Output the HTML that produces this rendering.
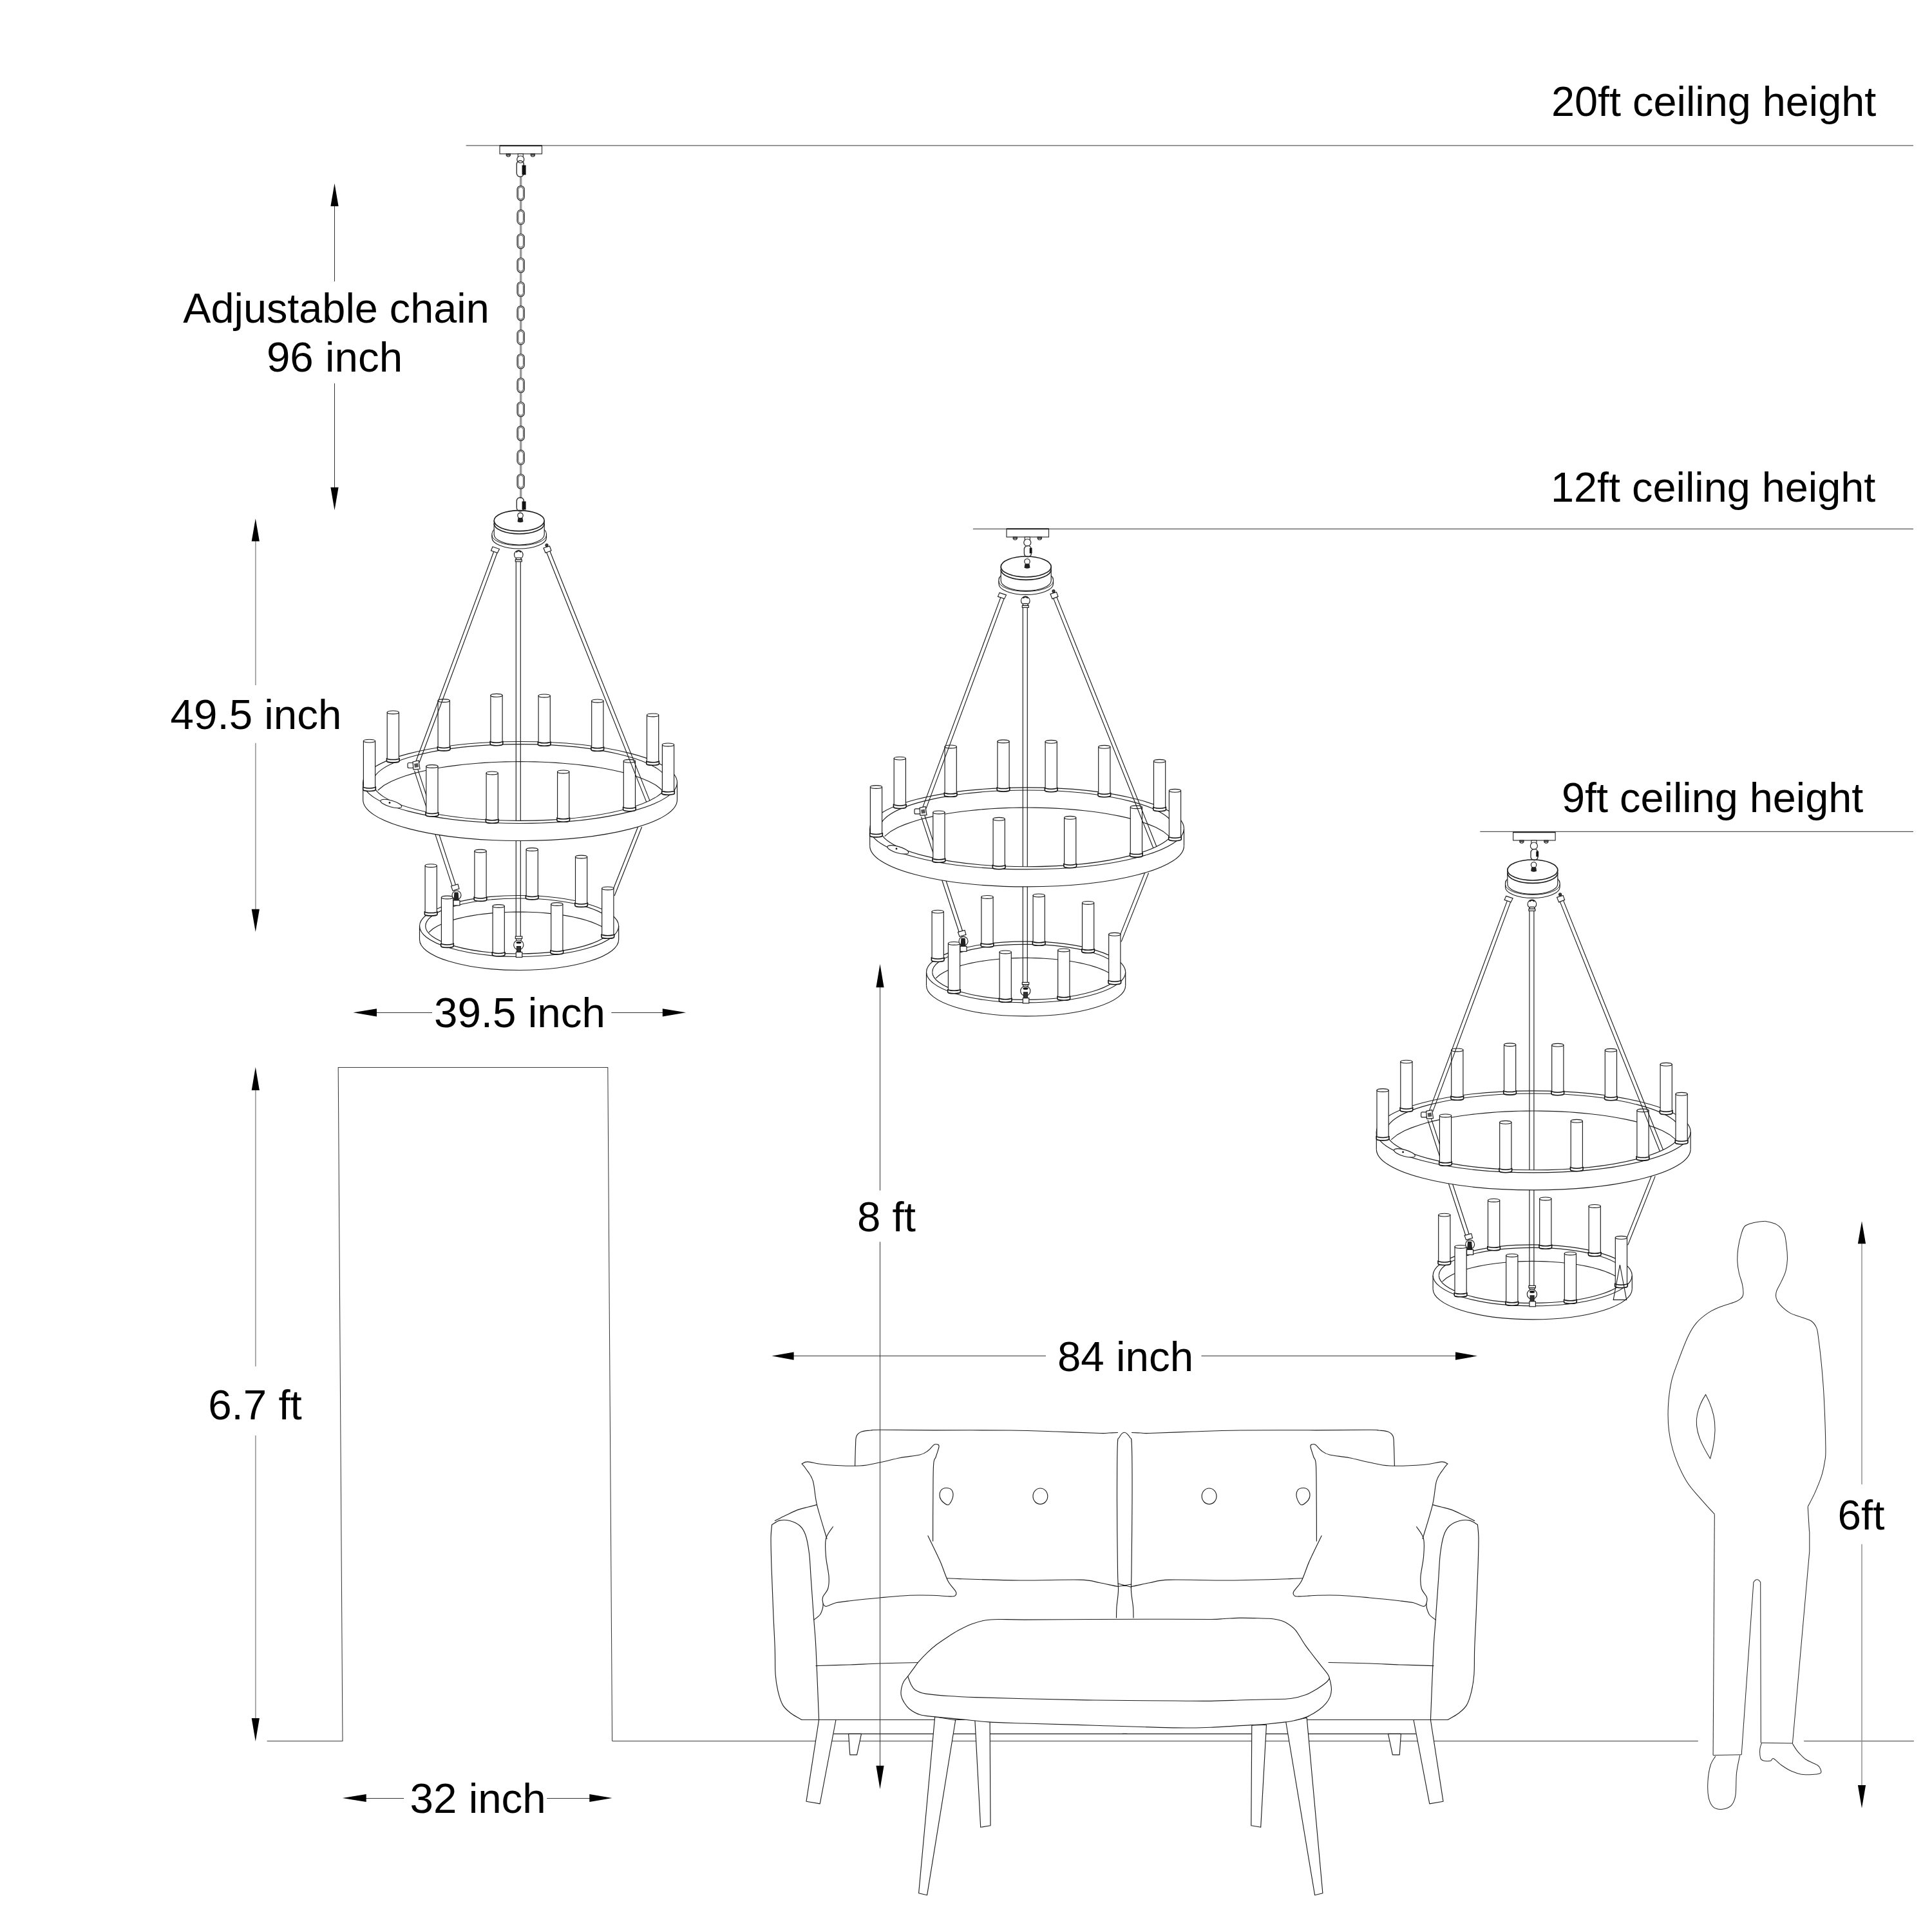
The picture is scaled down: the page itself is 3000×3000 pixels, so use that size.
<!DOCTYPE html>
<html><head><meta charset="utf-8"><style>
html,body{margin:0;padding:0;background:#fff;}
svg{display:block;}
text{font-family:"Liberation Sans",sans-serif;font-size:65.5px;fill:#000;}
</style></head><body>
<svg width="3000" height="3000" viewBox="0 0 3000 3000">
<defs>
<path id="ahU" d="M0,0 L-6.2,35.5 L6.2,35.5 Z"/>
</defs>
<rect width="3000" height="3000" fill="#fff"/>

<!-- ceiling lines -->
<line x1="723.6" y1="226" x2="2971" y2="226" stroke="#999" stroke-width="2"/>
<line x1="1510.9" y1="821.4" x2="2971" y2="821.4" stroke="#555" stroke-width="1.4"/>
<line x1="2298.3" y1="1291.4" x2="2971" y2="1291.4" stroke="#555" stroke-width="1.4"/>

<!-- labels -->
<g id="labels">
<text x="2409" y="180.4" style="font-size:64.8px">20ft ceiling height</text>
<text x="2408" y="779" style="font-size:64.8px">12ft ceiling height</text>
<text x="2425" y="1260.6" style="font-size:64.8px">9ft ceiling height</text>
<text x="522" y="500.5" text-anchor="middle" style="font-size:64.8px">Adjustable chain</text>
<text x="519.5" y="577.4" text-anchor="middle">96 inch</text>
<text x="397.5" y="1132.2" text-anchor="middle">49.5 inch</text>
<text x="806.9" y="1595.4" text-anchor="middle">39.5 inch</text>
<text x="396" y="2204.3" text-anchor="middle">6.7 ft</text>
<text x="742.2" y="2815.3" text-anchor="middle">32 inch</text>
<text x="1376.5" y="1912.3" text-anchor="middle">8 ft</text>
<text x="1747.5" y="2129.4" text-anchor="middle">84 inch</text>
<text x="2890" y="2374.5" text-anchor="middle">6ft</text>
</g>

<!-- door + floor -->
<g fill="none" stroke="#3a3a3a" stroke-width="1.05">
<polyline points="414.6,2703.5 532,2703.5 525.2,1657.5 943.8,1657.5 950.6,2703.5"/>
<line x1="950.6" y1="2703.5" x2="2636.8" y2="2703.5"/>
<line x1="2801.1" y1="2703.5" x2="2971.9" y2="2703.5"/>
</g>

<!-- CHANDELIERS -->
<g id="chbody"><path d="M563.7,1215 L575.9,1195.2 L588.1,1187.3 L600.3,1181.5 L612.5,1176.9 L624.7,1173 L636.9,1169.7 L649.1,1166.7 L661.3,1164.2 L673.5,1162 L685.7,1160 L697.8,1158.3 L710,1156.8 L722.2,1155.5 L734.4,1154.4 L746.6,1153.5 L758.8,1152.8 L771,1152.2 L783.2,1151.8 L795.4,1151.6 L807.6,1151.5 L819.8,1151.6 L832,1151.8 L844.2,1152.2 L856.4,1152.8 L868.6,1153.5 L880.8,1154.4 L893,1155.5 L905.2,1156.8 L917.4,1158.3 L929.5,1160 L941.7,1162 L953.9,1164.2 L966.1,1166.7 L978.3,1169.7 L990.5,1173 L1002.7,1176.9 L1014.9,1181.5 L1027.1,1187.3 L1039.3,1195.2 L1051.5,1215 L1036.1,1215 L1024.7,1196.5 L1013.2,1189.1 L1001.8,1183.7 L990.4,1179.4 L979,1175.7 L967.5,1172.6 L956.1,1169.9 L944.7,1167.5 L933.3,1165.4 L921.8,1163.6 L910.4,1162 L899,1160.6 L887.6,1159.4 L876.1,1158.3 L864.7,1157.5 L853.3,1156.8 L841.9,1156.3 L830.4,1155.9 L819,1155.7 L807.6,1155.6 L796.2,1155.7 L784.8,1155.9 L773.3,1156.3 L761.9,1156.8 L750.5,1157.5 L739,1158.3 L727.6,1159.4 L716.2,1160.6 L704.8,1162 L693.4,1163.6 L681.9,1165.4 L670.5,1167.5 L659.1,1169.9 L647.6,1172.6 L636.2,1175.7 L624.8,1179.4 L613.4,1183.7 L602,1189.1 L590.5,1196.5 L579.1,1215 Z" fill="#fff" stroke="none"/>
<path d="M579.1,1242 L590.5,1223.5 L602,1216.1 L613.4,1210.7 L624.8,1206.4 L636.2,1202.7 L647.6,1199.6 L659.1,1196.9 L670.5,1194.5 L681.9,1192.4 L693.4,1190.6 L704.8,1189 L716.2,1187.6 L727.6,1186.4 L739,1185.3 L750.5,1184.5 L761.9,1183.8 L773.3,1183.3 L784.8,1182.9 L796.2,1182.7 L807.6,1182.6 L819,1182.7 L830.5,1182.9 L841.9,1183.3 L853.3,1183.8 L864.7,1184.5 L876.1,1185.3 L887.6,1186.4 L899,1187.6 L910.4,1189 L921.8,1190.6 L933.3,1192.4 L944.7,1194.5 L956.1,1196.9 L967.5,1199.6 L979,1202.7 L990.4,1206.4 L1001.8,1210.7 L1013.2,1216.1 L1024.7,1223.5 L1036.1,1242 L1036.1,1215 L1024.7,1196.5 L1013.2,1189.1 L1001.8,1183.7 L990.4,1179.4 L979,1175.7 L967.5,1172.6 L956.1,1169.9 L944.7,1167.5 L933.3,1165.4 L921.8,1163.6 L910.4,1162 L899,1160.6 L887.6,1159.4 L876.1,1158.3 L864.7,1157.5 L853.3,1156.8 L841.9,1156.3 L830.4,1155.9 L819,1155.7 L807.6,1155.6 L796.2,1155.7 L784.8,1155.9 L773.3,1156.3 L761.9,1156.8 L750.5,1157.5 L739,1158.3 L727.6,1159.4 L716.2,1160.6 L704.8,1162 L693.4,1163.6 L681.9,1165.4 L670.5,1167.5 L659.1,1169.9 L647.6,1172.6 L636.2,1175.7 L624.8,1179.4 L613.4,1183.7 L602,1189.1 L590.5,1196.5 L579.1,1215 Z" fill="#fff" stroke="none"/>
<path d="M563.7,1215 A243.9,63.5 0 0 1 1051.5,1215" fill="none" stroke="#1c1c1c" stroke-width="1.15"/>
<path d="M579.1,1215 A228.5,59.4 0 0 1 1036.1,1215" fill="none" stroke="#1c1c1c" stroke-width="1.15"/>
<path d="M585.1,1228.5 L596.2,1219.5 L607.3,1213.4 L618.5,1208.7 L629.6,1204.8 L640.7,1201.4 L651.8,1198.5 L663,1196 L674.1,1193.8 L685.2,1191.8 L696.3,1190.1 L707.5,1188.6 L718.6,1187.3 L729.7,1186.2 L740.8,1185.2 L752,1184.4 L763.1,1183.7 L774.2,1183.2 L785.3,1182.9 L796.5,1182.7 L807.6,1182.6 L818.7,1182.7 L829.9,1182.9 L841,1183.2 L852.1,1183.7 L863.2,1184.4 L874.4,1185.2 L885.5,1186.2 L896.6,1187.3 L907.7,1188.6 L918.9,1190.1 L930,1191.8 L941.1,1193.8 L952.2,1196 L963.4,1198.5 L974.5,1201.4 L985.6,1204.8 L996.7,1208.7 L1007.9,1213.4 L1019,1219.5 L1030.1,1228.5" fill="none" stroke="#1c1c1c" stroke-width="1.15"/>
<path d="M601.2,1106.2 L601.2,1178.2 A9.1,2.4 0 0 0 619.4,1178.2 L619.4,1106.2 Z" fill="#fff" stroke="#1c1c1c" stroke-width="1.15"/>
<ellipse cx="610.3" cy="1106.2" rx="9.1" ry="2.4" fill="#fff" stroke="#1c1c1c" stroke-width="1.15"/>
<path d="M600.5,1177.2 L600.5,1181.7 A9.8,2.4 0 0 0 620.1,1181.7 L620.1,1177.2" fill="#fff" stroke="#111" stroke-width="1.6"/>
<path d="M600.5,1177.2 A9.8,2.4 0 0 0 620.1,1177.2" fill="none" stroke="#111" stroke-width="1.5"/>
<path d="M680.1,1088 L680.1,1160 A9.1,2.4 0 0 0 698.3,1160 L698.3,1088 Z" fill="#fff" stroke="#1c1c1c" stroke-width="1.15"/>
<ellipse cx="689.2" cy="1088" rx="9.1" ry="2.4" fill="#fff" stroke="#1c1c1c" stroke-width="1.15"/>
<path d="M679.4,1159 L679.4,1163.5 A9.8,2.4 0 0 0 699,1163.5 L699,1159" fill="#fff" stroke="#111" stroke-width="1.6"/>
<path d="M679.4,1159 A9.8,2.4 0 0 0 699,1159" fill="none" stroke="#111" stroke-width="1.5"/>
<path d="M761.9,1079.8 L761.9,1151.8 A9.1,2.4 0 0 0 780.1,1151.8 L780.1,1079.8 Z" fill="#fff" stroke="#1c1c1c" stroke-width="1.15"/>
<ellipse cx="771" cy="1079.8" rx="9.1" ry="2.4" fill="#fff" stroke="#1c1c1c" stroke-width="1.15"/>
<path d="M761.2,1150.8 L761.2,1155.3 A9.8,2.4 0 0 0 780.8,1155.3 L780.8,1150.8" fill="#fff" stroke="#111" stroke-width="1.6"/>
<path d="M761.2,1150.8 A9.8,2.4 0 0 0 780.8,1150.8" fill="none" stroke="#111" stroke-width="1.5"/>
<path d="M836.1,1080.4 L836.1,1152.4 A9.1,2.4 0 0 0 854.3,1152.4 L854.3,1080.4 Z" fill="#fff" stroke="#1c1c1c" stroke-width="1.15"/>
<ellipse cx="845.2" cy="1080.4" rx="9.1" ry="2.4" fill="#fff" stroke="#1c1c1c" stroke-width="1.15"/>
<path d="M835.4,1151.4 L835.4,1155.9 A9.8,2.4 0 0 0 855,1155.9 L855,1151.4" fill="#fff" stroke="#111" stroke-width="1.6"/>
<path d="M835.4,1151.4 A9.8,2.4 0 0 0 855,1151.4" fill="none" stroke="#111" stroke-width="1.5"/>
<path d="M918.7,1088.4 L918.7,1160.4 A9.1,2.4 0 0 0 936.9,1160.4 L936.9,1088.4 Z" fill="#fff" stroke="#1c1c1c" stroke-width="1.15"/>
<ellipse cx="927.8" cy="1088.4" rx="9.1" ry="2.4" fill="#fff" stroke="#1c1c1c" stroke-width="1.15"/>
<path d="M918,1159.4 L918,1163.9 A9.8,2.4 0 0 0 937.6,1163.9 L937.6,1159.4" fill="#fff" stroke="#111" stroke-width="1.6"/>
<path d="M918,1159.4 A9.8,2.4 0 0 0 937.6,1159.4" fill="none" stroke="#111" stroke-width="1.5"/>
<path d="M1004.5,1110.4 L1004.5,1182.4 A9.1,2.4 0 0 0 1022.7,1182.4 L1022.7,1110.4 Z" fill="#fff" stroke="#1c1c1c" stroke-width="1.15"/>
<ellipse cx="1013.6" cy="1110.4" rx="9.1" ry="2.4" fill="#fff" stroke="#1c1c1c" stroke-width="1.15"/>
<path d="M1003.8,1181.4 L1003.8,1185.9 A9.8,2.4 0 0 0 1023.4,1185.9 L1023.4,1181.4" fill="#fff" stroke="#111" stroke-width="1.6"/>
<path d="M1003.8,1181.4 A9.8,2.4 0 0 0 1023.4,1181.4" fill="none" stroke="#111" stroke-width="1.5"/>
<path d="M651.5,1438 L659.2,1423.2 L667,1417.3 L674.7,1413 L682.4,1409.5 L690.1,1406.6 L697.9,1404.1 L705.6,1401.9 L713.3,1400 L721.1,1398.3 L728.8,1396.9 L736.5,1395.6 L744.3,1394.5 L752,1393.5 L759.7,1392.7 L767.5,1392 L775.2,1391.5 L782.9,1391 L790.6,1390.7 L798.4,1390.6 L806.1,1390.5 L813.8,1390.6 L821.6,1390.7 L829.3,1391 L837,1391.5 L844.8,1392 L852.5,1392.7 L860.2,1393.5 L867.9,1394.5 L875.7,1395.6 L883.4,1396.9 L891.1,1398.3 L898.9,1400 L906.6,1401.9 L914.3,1404.1 L922.1,1406.6 L929.8,1409.5 L937.5,1413 L945.2,1417.3 L953,1423.2 L960.7,1438 L951.5,1438 L944.2,1424.6 L937,1419.3 L929.7,1415.3 L922.4,1412.2 L915.1,1409.6 L907.9,1407.3 L900.6,1405.3 L893.3,1403.6 L886.1,1402.1 L878.8,1400.8 L871.5,1399.6 L864.3,1398.6 L857,1397.7 L849.7,1397 L842.5,1396.4 L835.2,1395.9 L827.9,1395.5 L820.6,1395.2 L813.4,1395.1 L806.1,1395 L798.8,1395.1 L791.6,1395.2 L784.3,1395.5 L777,1395.9 L769.8,1396.4 L762.5,1397 L755.2,1397.7 L747.9,1398.6 L740.7,1399.6 L733.4,1400.8 L726.1,1402.1 L718.9,1403.6 L711.6,1405.3 L704.3,1407.3 L697.1,1409.6 L689.8,1412.2 L682.5,1415.3 L675.2,1419.3 L668,1424.6 L660.7,1438 Z" fill="#fff" stroke="none"/>
<path d="M660.7,1459 L668,1445.6 L675.2,1440.3 L682.5,1436.3 L689.8,1433.2 L697.1,1430.6 L704.3,1428.3 L711.6,1426.3 L718.9,1424.6 L726.1,1423.1 L733.4,1421.8 L740.7,1420.6 L747.9,1419.6 L755.2,1418.7 L762.5,1418 L769.8,1417.4 L777,1416.9 L784.3,1416.5 L791.6,1416.2 L798.8,1416.1 L806.1,1416 L813.4,1416.1 L820.6,1416.2 L827.9,1416.5 L835.2,1416.9 L842.5,1417.4 L849.7,1418 L857,1418.7 L864.3,1419.6 L871.5,1420.6 L878.8,1421.8 L886.1,1423.1 L893.3,1424.6 L900.6,1426.3 L907.9,1428.3 L915.1,1430.6 L922.4,1433.2 L929.7,1436.3 L937,1440.3 L944.2,1445.6 L951.5,1459 L951.5,1438 L944.2,1424.6 L937,1419.3 L929.7,1415.3 L922.4,1412.2 L915.1,1409.6 L907.9,1407.3 L900.6,1405.3 L893.3,1403.6 L886.1,1402.1 L878.8,1400.8 L871.5,1399.6 L864.3,1398.6 L857,1397.7 L849.7,1397 L842.5,1396.4 L835.2,1395.9 L827.9,1395.5 L820.6,1395.2 L813.4,1395.1 L806.1,1395 L798.8,1395.1 L791.6,1395.2 L784.3,1395.5 L777,1395.9 L769.8,1396.4 L762.5,1397 L755.2,1397.7 L747.9,1398.6 L740.7,1399.6 L733.4,1400.8 L726.1,1402.1 L718.9,1403.6 L711.6,1405.3 L704.3,1407.3 L697.1,1409.6 L689.8,1412.2 L682.5,1415.3 L675.2,1419.3 L668,1424.6 L660.7,1438 Z" fill="#fff" stroke="none"/>
<path d="M651.5,1438 A154.6,47.5 0 0 1 960.7,1438" fill="none" stroke="#1c1c1c" stroke-width="1.15"/>
<path d="M660.7,1438 A145.4,43 0 0 1 951.5,1438" fill="none" stroke="#1c1c1c" stroke-width="1.15"/>
<path d="M665.1,1448.5 L672.2,1442.3 L679.2,1438 L686.3,1434.7 L693.3,1431.9 L700.4,1429.5 L707.4,1427.4 L714.5,1425.6 L721.5,1424 L728.6,1422.6 L735.6,1421.4 L742.7,1420.3 L749.7,1419.4 L756.8,1418.6 L763.8,1417.9 L770.9,1417.3 L777.9,1416.8 L785,1416.5 L792,1416.2 L799.1,1416.1 L806.1,1416 L813.1,1416.1 L820.2,1416.2 L827.2,1416.5 L834.3,1416.8 L841.3,1417.3 L848.4,1417.9 L855.4,1418.6 L862.5,1419.4 L869.5,1420.3 L876.6,1421.4 L883.6,1422.6 L890.7,1424 L897.7,1425.6 L904.8,1427.4 L911.8,1429.5 L918.9,1431.9 L925.9,1434.7 L933,1438 L940,1442.3 L947.1,1448.5" fill="none" stroke="#1c1c1c" stroke-width="1.15"/>
<path d="M660.1,1344.2 L660.1,1416.2 A9.1,2.4 0 0 0 678.3,1416.2 L678.3,1344.2 Z" fill="#fff" stroke="#1c1c1c" stroke-width="1.15"/>
<ellipse cx="669.2" cy="1344.2" rx="9.1" ry="2.4" fill="#fff" stroke="#1c1c1c" stroke-width="1.15"/>
<path d="M659.4,1415.2 L659.4,1419.7 A9.8,2.4 0 0 0 679,1419.7 L679,1415.2" fill="#fff" stroke="#111" stroke-width="1.6"/>
<path d="M659.4,1415.2 A9.8,2.4 0 0 0 679,1415.2" fill="none" stroke="#111" stroke-width="1.5"/>
<path d="M736.9,1321.5 L736.9,1393.5 A9.1,2.4 0 0 0 755.1,1393.5 L755.1,1321.5 Z" fill="#fff" stroke="#1c1c1c" stroke-width="1.15"/>
<ellipse cx="746" cy="1321.5" rx="9.1" ry="2.4" fill="#fff" stroke="#1c1c1c" stroke-width="1.15"/>
<path d="M736.2,1392.5 L736.2,1397 A9.8,2.4 0 0 0 755.8,1397 L755.8,1392.5" fill="#fff" stroke="#111" stroke-width="1.6"/>
<path d="M736.2,1392.5 A9.8,2.4 0 0 0 755.8,1392.5" fill="none" stroke="#111" stroke-width="1.5"/>
<path d="M817.1,1319 L817.1,1391 A9.1,2.4 0 0 0 835.3,1391 L835.3,1319 Z" fill="#fff" stroke="#1c1c1c" stroke-width="1.15"/>
<ellipse cx="826.2" cy="1319" rx="9.1" ry="2.4" fill="#fff" stroke="#1c1c1c" stroke-width="1.15"/>
<path d="M816.4,1390 L816.4,1394.5 A9.8,2.4 0 0 0 836,1394.5 L836,1390" fill="#fff" stroke="#111" stroke-width="1.6"/>
<path d="M816.4,1390 A9.8,2.4 0 0 0 836,1390" fill="none" stroke="#111" stroke-width="1.5"/>
<path d="M893.5,1330.5 L893.5,1402.5 A9.1,2.4 0 0 0 911.7,1402.5 L911.7,1330.5 Z" fill="#fff" stroke="#1c1c1c" stroke-width="1.15"/>
<ellipse cx="902.6" cy="1330.5" rx="9.1" ry="2.4" fill="#fff" stroke="#1c1c1c" stroke-width="1.15"/>
<path d="M892.8,1401.5 L892.8,1406 A9.8,2.4 0 0 0 912.4,1406 L912.4,1401.5" fill="#fff" stroke="#111" stroke-width="1.6"/>
<path d="M892.8,1401.5 A9.8,2.4 0 0 0 912.4,1401.5" fill="none" stroke="#111" stroke-width="1.5"/>
<path d="M801.3,870 L801.3,1455 M808.3,870 L808.3,1455" fill="none" stroke="#1c1c1c" stroke-width="1.15"/>
<path d="M767.3,855 L645.9,1182 M772.5,857 L651.1,1184" fill="none" stroke="#1c1c1c" stroke-width="1.15"/>
<path d="M643.5,1196.9 L702.8,1377.9 M648.9,1195.1 L708.2,1376.1" fill="none" stroke="#1c1c1c" stroke-width="1.15"/>
<path d="M991.4,1282 L948.9,1389 M996.6,1284 L954.1,1391" fill="none" stroke="#1c1c1c" stroke-width="1.15"/>
<path d="M563.7,1215 L575.9,1234.8 L588.1,1242.7 L600.3,1248.5 L612.5,1253.1 L624.7,1257 L636.9,1260.3 L649.1,1263.3 L661.3,1265.8 L673.5,1268 L685.7,1270 L697.8,1271.7 L710,1273.2 L722.2,1274.5 L734.4,1275.6 L746.6,1276.5 L758.8,1277.2 L771,1277.8 L783.2,1278.2 L795.4,1278.4 L807.6,1278.5 L819.8,1278.4 L832,1278.2 L844.2,1277.8 L856.4,1277.2 L868.6,1276.5 L880.8,1275.6 L893,1274.5 L905.2,1273.2 L917.4,1271.7 L929.5,1270 L941.7,1268 L953.9,1265.8 L966.1,1263.3 L978.3,1260.3 L990.5,1257 L1002.7,1253.1 L1014.9,1248.5 L1027.1,1242.7 L1039.3,1234.8 L1051.5,1215 L1036.1,1215 L1024.7,1233.5 L1013.2,1240.9 L1001.8,1246.3 L990.4,1250.6 L979,1254.3 L967.5,1257.4 L956.1,1260.1 L944.7,1262.5 L933.3,1264.6 L921.8,1266.4 L910.4,1268 L899,1269.4 L887.6,1270.6 L876.1,1271.7 L864.7,1272.5 L853.3,1273.2 L841.9,1273.7 L830.4,1274.1 L819,1274.3 L807.6,1274.4 L796.2,1274.3 L784.8,1274.1 L773.3,1273.7 L761.9,1273.2 L750.5,1272.5 L739,1271.7 L727.6,1270.6 L716.2,1269.4 L704.8,1268 L693.4,1266.4 L681.9,1264.6 L670.5,1262.5 L659.1,1260.1 L647.6,1257.4 L636.2,1254.3 L624.8,1250.6 L613.4,1246.3 L602,1240.9 L590.5,1233.5 L579.1,1215 Z" fill="#fff" stroke="none"/>
<path d="M563.7,1215 L575.9,1234.8 L588.1,1242.7 L600.3,1248.5 L612.5,1253.1 L624.7,1257 L636.9,1260.3 L649.1,1263.3 L661.3,1265.8 L673.5,1268 L685.7,1270 L697.8,1271.7 L710,1273.2 L722.2,1274.5 L734.4,1275.6 L746.6,1276.5 L758.8,1277.2 L771,1277.8 L783.2,1278.2 L795.4,1278.4 L807.6,1278.5 L819.8,1278.4 L832,1278.2 L844.2,1277.8 L856.4,1277.2 L868.6,1276.5 L880.8,1275.6 L893,1274.5 L905.2,1273.2 L917.4,1271.7 L929.5,1270 L941.7,1268 L953.9,1265.8 L966.1,1263.3 L978.3,1260.3 L990.5,1257 L1002.7,1253.1 L1014.9,1248.5 L1027.1,1242.7 L1039.3,1234.8 L1051.5,1215 L1051.5,1242 L1039.3,1261.8 L1027.1,1269.7 L1014.9,1275.5 L1002.7,1280.1 L990.5,1284 L978.3,1287.3 L966.1,1290.3 L953.9,1292.8 L941.7,1295 L929.5,1297 L917.4,1298.7 L905.2,1300.2 L893,1301.5 L880.8,1302.6 L868.6,1303.5 L856.4,1304.2 L844.2,1304.8 L832,1305.2 L819.8,1305.4 L807.6,1305.5 L795.4,1305.4 L783.2,1305.2 L771,1304.8 L758.8,1304.2 L746.6,1303.5 L734.4,1302.6 L722.2,1301.5 L710,1300.2 L697.8,1298.7 L685.7,1297 L673.5,1295 L661.3,1292.8 L649.1,1290.3 L636.9,1287.3 L624.7,1284 L612.5,1280.1 L600.3,1275.5 L588.1,1269.7 L575.9,1261.8 L563.7,1242 Z" fill="#fff" stroke="none"/>
<path d="M563.7,1215 A243.9,63.5 0 0 0 1051.5,1215" fill="none" stroke="#1c1c1c" stroke-width="1.15"/>
<path d="M579.1,1215 A228.5,59.4 0 0 0 1036.1,1215" fill="none" stroke="#1c1c1c" stroke-width="1.15"/>
<path d="M563.7,1242 A243.9,63.5 0 0 0 1051.5,1242" fill="none" stroke="#1c1c1c" stroke-width="1.15"/>
<path d="M563.7,1215 L563.7,1242 M1051.5,1215 L1051.5,1242" fill="none" stroke="#1c1c1c" stroke-width="1.15"/>
<ellipse cx="607.3" cy="1248" rx="17" ry="5" transform="rotate(16 607.3 1248)" fill="#fff" stroke="#1c1c1c" stroke-width="1.15"/>
<circle cx="605" cy="1246.5" r="1.4" fill="#111"/>
<path d="M564.4,1150.6 L564.4,1222.6 A9.1,2.4 0 0 0 582.6,1222.6 L582.6,1150.6 Z" fill="#fff" stroke="#1c1c1c" stroke-width="1.15"/>
<ellipse cx="573.5" cy="1150.6" rx="9.1" ry="2.4" fill="#fff" stroke="#1c1c1c" stroke-width="1.15"/>
<path d="M563.7,1221.6 L563.7,1226.1 A9.8,2.4 0 0 0 583.3,1226.1 L583.3,1221.6" fill="#fff" stroke="#111" stroke-width="1.6"/>
<path d="M563.7,1221.6 A9.8,2.4 0 0 0 583.3,1221.6" fill="none" stroke="#111" stroke-width="1.5"/>
<path d="M1028.4,1156.4 L1028.4,1228.4 A9.1,2.4 0 0 0 1046.6,1228.4 L1046.6,1156.4 Z" fill="#fff" stroke="#1c1c1c" stroke-width="1.15"/>
<ellipse cx="1037.5" cy="1156.4" rx="9.1" ry="2.4" fill="#fff" stroke="#1c1c1c" stroke-width="1.15"/>
<path d="M1027.7,1227.4 L1027.7,1231.9 A9.8,2.4 0 0 0 1047.3,1231.9 L1047.3,1227.4" fill="#fff" stroke="#111" stroke-width="1.6"/>
<path d="M1027.7,1227.4 A9.8,2.4 0 0 0 1047.3,1227.4" fill="none" stroke="#111" stroke-width="1.5"/>
<path d="M661.8,1190 L661.8,1262 A9.1,2.4 0 0 0 680,1262 L680,1190 Z" fill="#fff" stroke="#1c1c1c" stroke-width="1.15"/>
<ellipse cx="670.9" cy="1190" rx="9.1" ry="2.4" fill="#fff" stroke="#1c1c1c" stroke-width="1.15"/>
<path d="M661.1,1261 L661.1,1265.5 A9.8,2.4 0 0 0 680.7,1265.5 L680.7,1261" fill="#fff" stroke="#111" stroke-width="1.6"/>
<path d="M661.1,1261 A9.8,2.4 0 0 0 680.7,1261" fill="none" stroke="#111" stroke-width="1.5"/>
<path d="M755.1,1200.4 L755.1,1272.4 A9.1,2.4 0 0 0 773.3,1272.4 L773.3,1200.4 Z" fill="#fff" stroke="#1c1c1c" stroke-width="1.15"/>
<ellipse cx="764.2" cy="1200.4" rx="9.1" ry="2.4" fill="#fff" stroke="#1c1c1c" stroke-width="1.15"/>
<path d="M754.4,1271.4 L754.4,1275.9 A9.8,2.4 0 0 0 774,1275.9 L774,1271.4" fill="#fff" stroke="#111" stroke-width="1.6"/>
<path d="M754.4,1271.4 A9.8,2.4 0 0 0 774,1271.4" fill="none" stroke="#111" stroke-width="1.5"/>
<path d="M865.6,1198.4 L865.6,1270.4 A9.1,2.4 0 0 0 883.8,1270.4 L883.8,1198.4 Z" fill="#fff" stroke="#1c1c1c" stroke-width="1.15"/>
<ellipse cx="874.7" cy="1198.4" rx="9.1" ry="2.4" fill="#fff" stroke="#1c1c1c" stroke-width="1.15"/>
<path d="M864.9,1269.4 L864.9,1273.9 A9.8,2.4 0 0 0 884.5,1273.9 L884.5,1269.4" fill="#fff" stroke="#111" stroke-width="1.6"/>
<path d="M864.9,1269.4 A9.8,2.4 0 0 0 884.5,1269.4" fill="none" stroke="#111" stroke-width="1.5"/>
<path d="M968.3,1181.8 L968.3,1253.8 A9.1,2.4 0 0 0 986.5,1253.8 L986.5,1181.8 Z" fill="#fff" stroke="#1c1c1c" stroke-width="1.15"/>
<ellipse cx="977.4" cy="1181.8" rx="9.1" ry="2.4" fill="#fff" stroke="#1c1c1c" stroke-width="1.15"/>
<path d="M967.6,1252.8 L967.6,1257.3 A9.8,2.4 0 0 0 987.2,1257.3 L987.2,1252.8" fill="#fff" stroke="#111" stroke-width="1.6"/>
<path d="M967.6,1252.8 A9.8,2.4 0 0 0 987.2,1252.8" fill="none" stroke="#111" stroke-width="1.5"/>
<path d="M848.4,857 L1003.8,1245.4 M853.6,855 L1009,1243.4" fill="none" stroke="#1c1c1c" stroke-width="1.15"/>
<path d="M651.5,1438 L659.2,1452.8 L667,1458.7 L674.7,1463 L682.4,1466.5 L690.1,1469.4 L697.9,1471.9 L705.6,1474.1 L713.3,1476 L721.1,1477.7 L728.8,1479.1 L736.5,1480.4 L744.3,1481.5 L752,1482.5 L759.7,1483.3 L767.5,1484 L775.2,1484.5 L782.9,1485 L790.6,1485.3 L798.4,1485.4 L806.1,1485.5 L813.8,1485.4 L821.6,1485.3 L829.3,1485 L837,1484.5 L844.8,1484 L852.5,1483.3 L860.2,1482.5 L867.9,1481.5 L875.7,1480.4 L883.4,1479.1 L891.1,1477.7 L898.9,1476 L906.6,1474.1 L914.3,1471.9 L922.1,1469.4 L929.8,1466.5 L937.5,1463 L945.2,1458.7 L953,1452.8 L960.7,1438 L951.5,1438 L944.2,1451.4 L937,1456.7 L929.7,1460.7 L922.4,1463.8 L915.1,1466.4 L907.9,1468.7 L900.6,1470.7 L893.3,1472.4 L886.1,1473.9 L878.8,1475.2 L871.5,1476.4 L864.3,1477.4 L857,1478.3 L849.7,1479 L842.5,1479.6 L835.2,1480.1 L827.9,1480.5 L820.6,1480.8 L813.4,1480.9 L806.1,1481 L798.8,1480.9 L791.6,1480.8 L784.3,1480.5 L777,1480.1 L769.8,1479.6 L762.5,1479 L755.2,1478.3 L747.9,1477.4 L740.7,1476.4 L733.4,1475.2 L726.1,1473.9 L718.9,1472.4 L711.6,1470.7 L704.3,1468.7 L697.1,1466.4 L689.8,1463.8 L682.5,1460.7 L675.2,1456.7 L668,1451.4 L660.7,1438 Z" fill="#fff" stroke="none"/>
<path d="M651.5,1438 L659.2,1452.8 L667,1458.7 L674.7,1463 L682.4,1466.5 L690.1,1469.4 L697.9,1471.9 L705.6,1474.1 L713.3,1476 L721.1,1477.7 L728.8,1479.1 L736.5,1480.4 L744.3,1481.5 L752,1482.5 L759.7,1483.3 L767.5,1484 L775.2,1484.5 L782.9,1485 L790.6,1485.3 L798.4,1485.4 L806.1,1485.5 L813.8,1485.4 L821.6,1485.3 L829.3,1485 L837,1484.5 L844.8,1484 L852.5,1483.3 L860.2,1482.5 L867.9,1481.5 L875.7,1480.4 L883.4,1479.1 L891.1,1477.7 L898.9,1476 L906.6,1474.1 L914.3,1471.9 L922.1,1469.4 L929.8,1466.5 L937.5,1463 L945.2,1458.7 L953,1452.8 L960.7,1438 L960.7,1459 L953,1473.8 L945.2,1479.7 L937.5,1484 L929.8,1487.5 L922.1,1490.4 L914.3,1492.9 L906.6,1495.1 L898.9,1497 L891.1,1498.7 L883.4,1500.1 L875.7,1501.4 L867.9,1502.5 L860.2,1503.5 L852.5,1504.3 L844.8,1505 L837,1505.5 L829.3,1506 L821.6,1506.3 L813.8,1506.4 L806.1,1506.5 L798.4,1506.4 L790.6,1506.3 L782.9,1506 L775.2,1505.5 L767.5,1505 L759.7,1504.3 L752,1503.5 L744.3,1502.5 L736.5,1501.4 L728.8,1500.1 L721.1,1498.7 L713.3,1497 L705.6,1495.1 L697.9,1492.9 L690.1,1490.4 L682.4,1487.5 L674.7,1484 L667,1479.7 L659.2,1473.8 L651.5,1459 Z" fill="#fff" stroke="none"/>
<path d="M651.5,1438 A154.6,47.5 0 0 0 960.7,1438" fill="none" stroke="#1c1c1c" stroke-width="1.15"/>
<path d="M660.7,1438 A145.4,43 0 0 0 951.5,1438" fill="none" stroke="#1c1c1c" stroke-width="1.15"/>
<path d="M651.5,1459 A154.6,47.5 0 0 0 960.7,1459" fill="none" stroke="#1c1c1c" stroke-width="1.15"/>
<path d="M651.5,1438 L651.5,1459 M960.7,1438 L960.7,1459" fill="none" stroke="#1c1c1c" stroke-width="1.15"/>
<path d="M685.4,1393.5 L685.4,1465.5 A9.1,2.4 0 0 0 703.6,1465.5 L703.6,1393.5 Z" fill="#fff" stroke="#1c1c1c" stroke-width="1.15"/>
<ellipse cx="694.5" cy="1393.5" rx="9.1" ry="2.4" fill="#fff" stroke="#1c1c1c" stroke-width="1.15"/>
<path d="M684.7,1464.5 L684.7,1469 A9.8,2.4 0 0 0 704.3,1469 L704.3,1464.5" fill="#fff" stroke="#111" stroke-width="1.6"/>
<path d="M684.7,1464.5 A9.8,2.4 0 0 0 704.3,1464.5" fill="none" stroke="#111" stroke-width="1.5"/>
<path d="M765.1,1407 L765.1,1479 A9.1,2.4 0 0 0 783.3,1479 L783.3,1407 Z" fill="#fff" stroke="#1c1c1c" stroke-width="1.15"/>
<ellipse cx="774.2" cy="1407" rx="9.1" ry="2.4" fill="#fff" stroke="#1c1c1c" stroke-width="1.15"/>
<path d="M764.4,1478 L764.4,1482.5 A9.8,2.4 0 0 0 784,1482.5 L784,1478" fill="#fff" stroke="#111" stroke-width="1.6"/>
<path d="M764.4,1478 A9.8,2.4 0 0 0 784,1478" fill="none" stroke="#111" stroke-width="1.5"/>
<path d="M855.7,1404 L855.7,1476 A9.1,2.4 0 0 0 873.9,1476 L873.9,1404 Z" fill="#fff" stroke="#1c1c1c" stroke-width="1.15"/>
<ellipse cx="864.8" cy="1404" rx="9.1" ry="2.4" fill="#fff" stroke="#1c1c1c" stroke-width="1.15"/>
<path d="M855,1475 L855,1479.5 A9.8,2.4 0 0 0 874.6,1479.5 L874.6,1475" fill="#fff" stroke="#111" stroke-width="1.6"/>
<path d="M855,1475 A9.8,2.4 0 0 0 874.6,1475" fill="none" stroke="#111" stroke-width="1.5"/>
<path d="M934.7,1379.4 L934.7,1451.4 A9.1,2.4 0 0 0 952.9,1451.4 L952.9,1379.4 Z" fill="#fff" stroke="#1c1c1c" stroke-width="1.15"/>
<ellipse cx="943.8" cy="1379.4" rx="9.1" ry="2.4" fill="#fff" stroke="#1c1c1c" stroke-width="1.15"/>
<path d="M934,1450.4 L934,1454.9 A9.8,2.4 0 0 0 953.6,1454.9 L953.6,1450.4" fill="#fff" stroke="#111" stroke-width="1.6"/>
<path d="M934,1450.4 A9.8,2.4 0 0 0 953.6,1450.4" fill="none" stroke="#111" stroke-width="1.5"/>
<g fill="#fff" stroke="#1c1c1c" stroke-width="1.15">
<rect x="633" y="1184.5" width="9" height="8" rx="2"/>
<path d="M641,1183 L650,1181 L652,1194 L642,1195 Z" fill="#fff"/>
<path d="M643,1186 L649,1185 L650,1191 L644,1192 Z" fill="#555" stroke="none"/>
</g>
<g fill="#fff" stroke="#1c1c1c" stroke-width="1.15">
<path d="M700.5,1376 L711,1373 L713,1380 L703,1383 Z"/>
<circle cx="709" cy="1390" r="7"/>
<path d="M706,1386 L711,1386 L712,1398 L705,1398 Z" fill="#222"/>
<rect x="704" y="1398" width="10" height="8"/>
</g>
<g fill="#fff" stroke="#1c1c1c" stroke-width="1.15">
<rect x="800.3" y="1454" width="10.5" height="3.5"/>
<path d="M801.5,1457.5 L809.5,1457.5 L808.5,1463 L802.5,1463 Z"/>
<circle cx="805.3" cy="1467.3" r="7.6"/>
<ellipse cx="805.5" cy="1463.5" rx="3.5" ry="1.3" fill="#111"/>
<path d="M802.5,1469.5 L808.5,1469.5 L808.5,1478.5 L802.5,1478.5 Z" fill="#333"/>
<rect x="801.3" y="1478.4" width="9.5" height="8"/>
</g>
<path d="M763.9,829 L763.9,835 A42.3,17 0 0 0 848.5,835 L848.5,829 A42.3,17 0 0 0 763.9,829 Z" fill="#fff" stroke="#1c1c1c" stroke-width="1.15"/>
<path d="M763.9,831 A42.3,16 0 0 0 848.5,831" fill="none" stroke="#1c1c1c" stroke-width="1"/>
<path d="M767.2,809 L767.2,830 A39,16 0 0 0 845.2,830 L845.2,809 Z" fill="#fff" stroke="#1c1c1c" stroke-width="1.15"/>
<path d="M767.2,813 A39,16 0 0 0 845.2,813" fill="none" stroke="#1c1c1c" stroke-width="1.6"/>
<ellipse cx="806.2" cy="808.6" rx="39" ry="16" fill="#fff" stroke="#1c1c1c" stroke-width="1.6"/>
<circle cx="808" cy="800.5" r="4.2" fill="none" stroke="#1c1c1c" stroke-width="1.15"/>
<path d="M804.5,804 L811.5,804 L812.5,810 Q808,812.5 803.5,810 Z" fill="#222"/>
<g fill="#fff" stroke="#1c1c1c" stroke-width="1.15">
<path d="M765,849 L775.5,852.5 L772.5,858.5 L762.5,855 Z"/>
<path d="M844,851 L853.5,848 L856,855 L847,858.5 Z"/>
<circle cx="849" cy="846.5" r="2" fill="#444"/>
<circle cx="805.3" cy="861.5" r="6.8"/>
<path d="M801.5,857.5 Q805.3,853 809,857.5" fill="none" stroke="#222" stroke-width="2"/>
<path d="M802,866 L808.6,866 L809.5,869 L801,869 Z"/>
<rect x="800.3" y="869" width="10" height="3"/>
</g></g>
<use href="#chbody" x="787" y="71.4"/>
<use href="#chbody" x="1573.6" y="542.4"/>
<rect x="807" y="274" width="3.4" height="500" fill="#9a9a9a"/>
<rect x="803.1" y="288.7" width="11.2" height="22.5" rx="5.6" fill="#fff" stroke="#333" stroke-width="1.35"/>
<rect x="804.9" y="290.6" width="7.6" height="18.7" rx="3.8" fill="none" stroke="#444" stroke-width="1"/>
<rect x="803.1" y="326" width="11.2" height="22.5" rx="5.6" fill="#fff" stroke="#333" stroke-width="1.35"/>
<rect x="804.9" y="327.9" width="7.6" height="18.7" rx="3.8" fill="none" stroke="#444" stroke-width="1"/>
<rect x="803.1" y="363.3" width="11.2" height="22.5" rx="5.6" fill="#fff" stroke="#333" stroke-width="1.35"/>
<rect x="804.9" y="365.2" width="7.6" height="18.7" rx="3.8" fill="none" stroke="#444" stroke-width="1"/>
<rect x="803.1" y="400.6" width="11.2" height="22.5" rx="5.6" fill="#fff" stroke="#333" stroke-width="1.35"/>
<rect x="804.9" y="402.5" width="7.6" height="18.7" rx="3.8" fill="none" stroke="#444" stroke-width="1"/>
<rect x="803.1" y="437.9" width="11.2" height="22.5" rx="5.6" fill="#fff" stroke="#333" stroke-width="1.35"/>
<rect x="804.9" y="439.8" width="7.6" height="18.7" rx="3.8" fill="none" stroke="#444" stroke-width="1"/>
<rect x="803.1" y="475.2" width="11.2" height="22.5" rx="5.6" fill="#fff" stroke="#333" stroke-width="1.35"/>
<rect x="804.9" y="477.1" width="7.6" height="18.7" rx="3.8" fill="none" stroke="#444" stroke-width="1"/>
<rect x="803.1" y="512.5" width="11.2" height="22.5" rx="5.6" fill="#fff" stroke="#333" stroke-width="1.35"/>
<rect x="804.9" y="514.4" width="7.6" height="18.7" rx="3.8" fill="none" stroke="#444" stroke-width="1"/>
<rect x="803.1" y="549.8" width="11.2" height="22.5" rx="5.6" fill="#fff" stroke="#333" stroke-width="1.35"/>
<rect x="804.9" y="551.7" width="7.6" height="18.7" rx="3.8" fill="none" stroke="#444" stroke-width="1"/>
<rect x="803.1" y="587.1" width="11.2" height="22.5" rx="5.6" fill="#fff" stroke="#333" stroke-width="1.35"/>
<rect x="804.9" y="589" width="7.6" height="18.7" rx="3.8" fill="none" stroke="#444" stroke-width="1"/>
<rect x="803.1" y="624.4" width="11.2" height="22.5" rx="5.6" fill="#fff" stroke="#333" stroke-width="1.35"/>
<rect x="804.9" y="626.3" width="7.6" height="18.7" rx="3.8" fill="none" stroke="#444" stroke-width="1"/>
<rect x="803.1" y="661.7" width="11.2" height="22.5" rx="5.6" fill="#fff" stroke="#333" stroke-width="1.35"/>
<rect x="804.9" y="663.6" width="7.6" height="18.7" rx="3.8" fill="none" stroke="#444" stroke-width="1"/>
<rect x="803.1" y="699" width="11.2" height="22.5" rx="5.6" fill="#fff" stroke="#333" stroke-width="1.35"/>
<rect x="804.9" y="700.9" width="7.6" height="18.7" rx="3.8" fill="none" stroke="#444" stroke-width="1"/>
<rect x="803.1" y="736.3" width="11.2" height="22.5" rx="5.6" fill="#fff" stroke="#333" stroke-width="1.35"/>
<rect x="804.9" y="738.2" width="7.6" height="18.7" rx="3.8" fill="none" stroke="#444" stroke-width="1"/>
<rect x="776" y="226" width="65.5" height="12.9" fill="#fff" stroke="#333" stroke-width="1.2"/>
<line x1="776" y1="226.4" x2="841.5" y2="226.4" stroke="#222" stroke-width="1.8"/>
<path d="M786.3,238.9 L792.3,238.9 L792.3,241.5 Q789.3,245 786.3,241.5 Z" fill="#fff" stroke="#222" stroke-width="1.2"/>
<rect x="786.3" y="239.5" width="6" height="2" fill="#333"/>
<path d="M824.3,238.9 L830.3,238.9 L830.3,241.5 Q827.3,245 824.3,241.5 Z" fill="#fff" stroke="#222" stroke-width="1.2"/>
<rect x="824.3" y="239.5" width="6" height="2" fill="#333"/>
<rect x="804.3" y="238.9" width="8" height="5" fill="#fff" stroke="#222" stroke-width="1.1"/>
<circle cx="808.3" cy="247.5" r="5.5" fill="#fff" stroke="#222" stroke-width="1.2"/>
<rect x="802.3" y="249.5" width="11" height="25" rx="5.5" fill="none" stroke="#333" stroke-width="1.4"/>
<rect x="810.6" y="256.5" width="6" height="15" fill="#111"/>
<rect x="802.3" y="772.5" width="11" height="21.5" rx="5.5" fill="none" stroke="#333" stroke-width="1.4"/>
<rect x="810.6" y="778.5" width="6" height="12.9" fill="#111"/>
<g transform="translate(787,71.4)"><rect x="776" y="749.6" width="65.5" height="12.9" fill="#fff" stroke="#333" stroke-width="1.2"/>
<line x1="776" y1="750" x2="841.5" y2="750" stroke="#222" stroke-width="1.8"/>
<path d="M786.3,762.5 L792.3,762.5 L792.3,765.1 Q789.3,768.6 786.3,765.1 Z" fill="#fff" stroke="#222" stroke-width="1.2"/>
<rect x="786.3" y="763.1" width="6" height="2" fill="#333"/>
<path d="M824.3,762.5 L830.3,762.5 L830.3,765.1 Q827.3,768.6 824.3,765.1 Z" fill="#fff" stroke="#222" stroke-width="1.2"/>
<rect x="824.3" y="763.1" width="6" height="2" fill="#333"/>
<rect x="804.3" y="762.5" width="8" height="5" fill="#fff" stroke="#222" stroke-width="1.1"/>
<circle cx="808.3" cy="771.1" r="5.5" fill="#fff" stroke="#222" stroke-width="1.2"/>
<rect x="803.4" y="776" width="11" height="17.5" rx="5.5" fill="none" stroke="#333" stroke-width="1.4"/>
<rect x="811.7" y="779.5" width="3.8" height="8.4" fill="#111"/></g>
<g transform="translate(1573.6,542.4)"><rect x="776" y="749.6" width="65.5" height="12.9" fill="#fff" stroke="#333" stroke-width="1.2"/>
<line x1="776" y1="750" x2="841.5" y2="750" stroke="#222" stroke-width="1.8"/>
<path d="M786.3,762.5 L792.3,762.5 L792.3,765.1 Q789.3,768.6 786.3,765.1 Z" fill="#fff" stroke="#222" stroke-width="1.2"/>
<rect x="786.3" y="763.1" width="6" height="2" fill="#333"/>
<path d="M824.3,762.5 L830.3,762.5 L830.3,765.1 Q827.3,768.6 824.3,765.1 Z" fill="#fff" stroke="#222" stroke-width="1.2"/>
<rect x="824.3" y="763.1" width="6" height="2" fill="#333"/>
<rect x="804.3" y="762.5" width="8" height="5" fill="#fff" stroke="#222" stroke-width="1.1"/>
<circle cx="808.3" cy="771.1" r="5.5" fill="#fff" stroke="#222" stroke-width="1.2"/>
<rect x="803.4" y="776" width="11" height="17.5" rx="5.5" fill="none" stroke="#333" stroke-width="1.4"/>
<rect x="811.7" y="779.5" width="3.8" height="8.4" fill="#111"/></g>
<path d="M2515.4,1964 L2505.2,2018.3 L2525.7,2018.3 Z" fill="none" stroke="#1c1c1c" stroke-width="1.15"/>

<!-- SOFA -->
<g id="sofahalf"><path d="M1327.5,2280 C1327.7,2274.2 1328.1,2253.3 1328.5,2245 C1328.9,2236.7 1328.4,2233.7 1330,2230 C1331.6,2226.3 1334.3,2224.5 1338,2223 C1341.7,2221.5 1347.3,2221.5 1352,2221 C1356.7,2220.5 1350,2220.2 1366.3,2220.2 C1382.6,2220.2 1416.3,2220.7 1450,2220.8 C1483.7,2220.9 1536.5,2220.6 1568.2,2221 C1599.9,2221.4 1616.7,2222.2 1640,2223 C1663.3,2223.8 1694.3,2225.2 1708,2225.5 C1721.7,2225.8 1717.4,2225.2 1722,2225 C1726.6,2224.8 1733.2,2224.6 1735.5,2224.5" fill="none" stroke="#1e1e1e" stroke-width="1.15" stroke-linejoin="round" stroke-linecap="round"/>
<path d="M1462,2450 C1466.8,2450.3 1470.3,2450.9 1490.6,2451.6 C1510.9,2452.3 1552.7,2453.8 1583.7,2454 C1614.8,2454.2 1656.2,2452.5 1676.9,2453.1 C1697.6,2453.7 1698.2,2456.1 1708,2457.8 C1717.8,2459.5 1729.5,2462.7 1735.9,2463.4 C1742.3,2464.1 1744.7,2462.2 1746.5,2462" fill="none" stroke="#1e1e1e" stroke-width="1.15" stroke-linejoin="round" stroke-linecap="round"/>
<path d="M1469,2310.5 C1471.8,2310.4 1476.2,2311.6 1478,2314 C1479.8,2316.4 1480.3,2321.2 1479.5,2325 C1478.7,2328.8 1475.4,2335.2 1473,2336.5 C1470.6,2337.8 1467.2,2334.9 1465,2333 C1462.8,2331.1 1460.2,2328.1 1459.5,2325 C1458.8,2321.9 1459.4,2316.9 1461,2314.5 C1462.6,2312.1 1466.2,2310.6 1469,2310.5 Z" fill="none" stroke="#1e1e1e" stroke-width="1.15" stroke-linejoin="round" stroke-linecap="round"/>
<ellipse cx="1615.4" cy="2323.3" rx="11.4" ry="12.3" fill="none" stroke="#1e1e1e" stroke-width="1.15" stroke-linejoin="round" stroke-linecap="round"/>
<path d="M1267,2586.6 C1275.8,2586.3 1303.5,2585.6 1320,2585 C1336.5,2584.4 1348,2583.6 1366.3,2583 C1384.6,2582.4 1419.4,2581.8 1430,2581.5" fill="none" stroke="#1e1e1e" stroke-width="1.15" stroke-linejoin="round" stroke-linecap="round"/>
<path d="M1245.2,2670.5 L1750,2670.5" fill="none" stroke="#1e1e1e" stroke-width="1.15" stroke-linejoin="round" stroke-linecap="round"/>
<path d="M1294.7,2692.3 L1750,2692.3" fill="none" stroke="#1e1e1e" stroke-width="1.15" stroke-linejoin="round" stroke-linecap="round"/>
<path d="M1198.6,2367.7 C1198.3,2370.8 1197.3,2377.6 1197.1,2386.3 C1196.9,2395 1197.3,2409.7 1197.6,2420 C1197.8,2430.3 1198,2433.4 1198.6,2448.4 C1199.2,2463.4 1200.2,2491.4 1201,2510 C1201.8,2528.6 1202.8,2545 1203.3,2560 C1203.8,2575 1203.3,2589 1204.1,2600 C1204.9,2611 1206.1,2617.9 1208,2625.9 C1209.9,2633.9 1212.2,2642.1 1215.7,2647.9 C1219.2,2653.7 1223.8,2657 1228.7,2660.8 C1233.6,2664.6 1242.5,2668.9 1245.2,2670.5" fill="none" stroke="#1e1e1e" stroke-width="1.15" stroke-linejoin="round" stroke-linecap="round"/>
<path d="M1198.6,2367.7 C1200.7,2366.6 1206.3,2361.9 1211,2360.9 C1215.7,2359.9 1221.4,2360.1 1226.6,2361.5 C1231.8,2362.9 1238,2365.6 1242.1,2369.3 C1246.2,2373.1 1248.6,2376.9 1251,2384 C1253.4,2391.1 1255.1,2401 1256.5,2412 C1257.9,2423 1258,2432.5 1259.2,2450 C1260.4,2467.5 1262.6,2498.5 1263.9,2516.8 C1265.2,2535.1 1265.7,2534.4 1267,2560 C1268.3,2585.6 1270.8,2652.1 1271.6,2670.5" fill="none" stroke="#1e1e1e" stroke-width="1.15" stroke-linejoin="round" stroke-linecap="round"/>
<path d="M1203.3,2361.5 C1206.1,2360.1 1214,2355.8 1220,2353 C1226,2350.2 1233.2,2346.6 1239,2344.4 C1244.8,2342.2 1250.1,2341.3 1255,2340 C1259.9,2338.7 1266.2,2337.2 1268.5,2336.6" fill="none" stroke="#1e1e1e" stroke-width="1.15" stroke-linejoin="round" stroke-linecap="round"/>
<path d="M1263.9,2515.2 C1265.5,2513.9 1270.9,2510.5 1273.2,2507.5 C1275.5,2504.5 1276.7,2499.9 1277.5,2497 C1278.3,2494.1 1277.9,2491.2 1278,2490" fill="none" stroke="#1e1e1e" stroke-width="1.15" stroke-linejoin="round" stroke-linecap="round"/>
<path d="M1245.2,2273 C1245.7,2271.2 1248.3,2269.7 1254.5,2269.9 C1260.7,2270.2 1269,2273.5 1282.5,2274.5 C1296,2275.5 1321.3,2276.6 1335.3,2276 C1349.3,2275.4 1355.9,2272.9 1366.3,2270.8 C1376.7,2268.8 1387.1,2265.7 1397.4,2263.7 C1407.8,2261.7 1421.2,2260.8 1428.4,2259 C1435.7,2257.2 1437.3,2255.4 1440.9,2252.8 C1444.5,2250.2 1447.4,2244.5 1450.2,2243.5 C1453,2242.5 1457.5,2243.5 1458,2246.6 C1458.5,2249.7 1454.7,2257.3 1453.3,2262 C1451.9,2266.7 1450.3,2263.2 1449.6,2274.5 C1448.8,2285.8 1449,2310.3 1448.8,2330 C1448.6,2349.7 1446.8,2376.9 1448.6,2392.5 C1450.4,2408.1 1455.6,2413.2 1459.5,2423.6 C1463.4,2434 1467.8,2446.7 1471.9,2454.7 C1476,2462.7 1482.5,2467.8 1484.3,2471.7 C1486.1,2475.6 1484.3,2476.8 1482.8,2478 C1481.2,2479.2 1481,2479 1475,2478.9 C1469,2478.8 1457.4,2477.6 1447.1,2477.3 C1436.8,2477 1426.4,2476.7 1412.9,2477.3 C1399.4,2477.9 1381.8,2479.6 1366.3,2481 C1350.8,2482.4 1331.2,2484.4 1319.8,2485.7 C1308.4,2487 1304.2,2487.4 1298,2488.8 C1291.8,2490.2 1285.9,2494.4 1282.5,2494.4 C1279.1,2494.4 1278.6,2491.3 1277.8,2488.8 C1277,2486.3 1276.5,2483.1 1277.8,2479.5 C1279.1,2475.9 1284,2472.2 1285.6,2467 C1287.1,2461.8 1287.6,2456.7 1287.1,2448.4 C1286.6,2440.1 1283.3,2427.2 1282.5,2417.4 C1281.7,2407.6 1284.8,2402.9 1282.5,2389.4 C1280.2,2375.9 1271.9,2351.6 1268.5,2336.6 C1265.1,2321.6 1265.1,2308.7 1262.3,2299.4 C1259.5,2290.1 1254.2,2285.1 1251.4,2280.7 C1248.6,2276.3 1244.7,2274.8 1245.2,2273 Z" fill="#fff" stroke="none"/>
<path d="M1245.2,2273 C1246.8,2272.5 1248.3,2269.7 1254.5,2269.9 C1260.7,2270.2 1269,2273.5 1282.5,2274.5 C1296,2275.5 1321.3,2276.6 1335.3,2276 C1349.3,2275.4 1355.9,2272.9 1366.3,2270.8 C1376.7,2268.8 1387.1,2265.7 1397.4,2263.7 C1407.8,2261.7 1421.2,2260.8 1428.4,2259 C1435.7,2257.2 1437.3,2255.4 1440.9,2252.8 C1444.5,2250.2 1447.7,2245.1 1450.2,2243.5 C1452.7,2241.9 1454.7,2242.5 1456,2243 C1457.3,2243.5 1458.5,2243.4 1458,2246.6 C1457.5,2249.8 1454.7,2257.3 1453.3,2262 C1451.9,2266.7 1450.3,2263.2 1449.6,2274.5 C1448.8,2285.8 1449,2310.2 1448.8,2330 C1448.6,2349.8 1448.6,2382.5 1448.6,2393" fill="none" stroke="#1e1e1e" stroke-width="1.15" stroke-linejoin="round" stroke-linecap="round"/>
<path d="M1440.9,2384.8 C1444,2391.3 1454.3,2411.9 1459.5,2423.6 C1464.7,2435.2 1467.8,2446.7 1471.9,2454.7 C1476,2462.7 1482.5,2467.8 1484.3,2471.7 C1486.1,2475.6 1484.3,2476.8 1482.8,2478 C1481.2,2479.2 1481,2479 1475,2478.9 C1469,2478.8 1457.4,2477.6 1447.1,2477.3 C1436.8,2477 1426.4,2476.7 1412.9,2477.3 C1399.4,2477.9 1381.8,2479.6 1366.3,2481 C1350.8,2482.4 1331.2,2484.4 1319.8,2485.7 C1308.4,2487 1304.2,2487.4 1298,2488.8 C1291.8,2490.2 1285.9,2494.4 1282.5,2494.4 C1279.1,2494.4 1278.6,2491.3 1277.8,2488.8 C1277,2486.3 1276.5,2483.1 1277.8,2479.5 C1279.1,2475.9 1284,2472.2 1285.6,2467 C1287.1,2461.8 1287.6,2456.7 1287.1,2448.4 C1286.6,2440.1 1283.3,2427.2 1282.5,2417.4 C1281.7,2407.6 1280.7,2397.2 1282.5,2389.4 C1284.3,2381.6 1291.6,2373.9 1293.4,2370.8" fill="none" stroke="#1e1e1e" stroke-width="1.15" stroke-linejoin="round" stroke-linecap="round"/>
<path d="M1245.2,2273 C1246.2,2274.3 1248.6,2276.3 1251.4,2280.7 C1254.2,2285.1 1259.5,2290.1 1262.3,2299.4 C1265.1,2308.7 1264.9,2321.6 1268.5,2336.6 C1272.1,2351.6 1281.4,2380.6 1284,2389.4" fill="none" stroke="#1e1e1e" stroke-width="1.15" stroke-linejoin="round" stroke-linecap="round"/>
<path d="M1317.6,2692.3 L1337.5,2692.3 L1330.6,2724.8 L1319.8,2724.8 Z" fill="#fff" stroke="#1e1e1e" stroke-width="1.15" stroke-linejoin="round"/>
<path d="M1271.6,2670.5 L1298,2670.5 L1273.2,2800.9 L1252,2797.2 Z" fill="#fff" stroke="#1e1e1e" stroke-width="1.15" stroke-linejoin="round"/></g>
<use href="#sofahalf" transform="matrix(-1 0 0 1 3493 0)"/>
<path d="M1733.5,2512.5 C1733.6,2509.6 1733.5,2502.1 1734,2495 C1734.5,2487.9 1736.2,2479.2 1736.5,2470 C1736.8,2460.8 1735.8,2463.3 1735.5,2440 C1735.2,2416.7 1734.5,2362.5 1734.5,2330 C1734.5,2297.5 1734.6,2261.3 1735.2,2245 C1735.8,2228.7 1736.2,2235.5 1738,2232 C1739.8,2228.5 1743.2,2224.2 1746,2224.2 C1748.8,2224.2 1752.6,2228.5 1754.5,2232 C1756.4,2235.5 1756.8,2228.7 1757.4,2245 C1758,2261.3 1758.1,2297.5 1758,2330 C1757.9,2362.5 1757.2,2416.7 1757,2440 C1756.8,2463.3 1756.1,2460.8 1756.5,2470 C1756.9,2479.2 1758.9,2487.9 1759.5,2495 C1760.1,2502.1 1759.9,2509.6 1760,2512.5" fill="#fff" stroke="#1e1e1e" stroke-width="1.15"/>
<path d="M1736,2463.5 L1757,2460 M1736,2459 L1757,2464.5" fill="none" stroke="#1e1e1e" stroke-width="1.15" stroke-linejoin="round" stroke-linecap="round"/>
<path d="M1513.9,2671.1 L1537.1,2672 L1538,2834.7 L1522.7,2837.3 Z" fill="#fff" stroke="#1e1e1e" stroke-width="1.15" stroke-linejoin="round"/>
<path d="M1943.8,2679.2 L1966.5,2678.3 L1957.7,2837.3 L1942.8,2834.7 Z" fill="#fff" stroke="#1e1e1e" stroke-width="1.15" stroke-linejoin="round"/>
<path d="M1451.7,2665.8 L1483.7,2671 L1439.6,2942.7 L1426.6,2939.8 Z" fill="#fff" stroke="#1e1e1e" stroke-width="1.15" stroke-linejoin="round"/>
<path d="M1996.6,2673 L2029.2,2667.4 L2053.9,2939.8 L2041.6,2942.7 Z" fill="#fff" stroke="#1e1e1e" stroke-width="1.15" stroke-linejoin="round"/>
<path d="M1409.7,2603 C1411.9,2600.1 1414.2,2596.9 1416.9,2593.2 C1419.7,2589.5 1422.4,2585.2 1426.2,2580.7 C1430,2576.2 1435,2570.8 1439.7,2566.3 C1444.4,2561.8 1449,2557.8 1454.2,2553.8 C1459.4,2549.8 1465,2546.1 1470.7,2542.4 C1476.4,2538.7 1481.9,2535.1 1488.3,2531.6 C1494.7,2528.1 1502.1,2524.3 1509,2521.7 C1515.9,2519.1 1522.9,2517.2 1529.8,2516 C1536.7,2514.8 1540.5,2514.7 1550.5,2514.5 C1560.5,2514.3 1565.1,2515.1 1590,2515.1 C1614.9,2515.1 1665,2514.7 1700,2514.5 C1735,2514.3 1770,2514.2 1800,2514.2 C1830,2514.2 1863.2,2514.6 1880,2514.5 C1896.8,2514.4 1893.5,2513.8 1900.7,2513.5 C1908,2513.2 1915.7,2512.6 1923.5,2512.4 C1931.3,2512.2 1939.5,2512.4 1947.3,2512.6 C1955.1,2512.8 1964.1,2512.9 1970.1,2513.3 C1976.1,2513.7 1979,2513.9 1983.5,2515 C1988,2516.1 1992.3,2517 1997,2519.7 C2001.7,2522.4 2006.5,2525.2 2011.5,2531.1 C2016.5,2537 2021,2546.4 2027,2554.9 C2033,2563.4 2042.2,2574.7 2047.7,2581.8 C2053.2,2588.9 2057.4,2593.7 2060.1,2597.3 C2062.8,2600.9 2063,2602 2063.7,2603.5 C2064.4,2605 2063.9,2604.4 2064.3,2606.1 C2064.7,2607.8 2065.8,2610.9 2066.3,2613.9 C2066.8,2616.9 2067.6,2620.8 2067.4,2624.2 C2067.2,2627.6 2066.7,2631.1 2065.3,2634.6 C2063.9,2638.1 2062,2641.4 2059.1,2644.9 C2056.2,2648.4 2052.5,2651.9 2047.7,2655.3 C2042.9,2658.8 2036.5,2662.8 2030.1,2665.6 C2023.7,2668.3 2014.9,2670.4 2009.4,2671.8 C2003.9,2673.2 2004.2,2673 1997,2673.9 C1989.8,2674.8 1975.1,2676.4 1965.9,2677.2 C1956.8,2678 1956.4,2677.8 1942.1,2678.6 C1927.8,2679.4 1899.7,2681.5 1880,2682.2 C1860.3,2682.9 1854.2,2683.4 1824.2,2682.9 C1794.2,2682.4 1739,2680.3 1700,2679.2 C1661,2678 1617.5,2676.9 1590,2676 C1562.5,2675.1 1551,2674.9 1534.9,2673.9 C1518.8,2672.9 1507.7,2671.2 1493.5,2669.8 C1479.3,2668.4 1460.9,2666.8 1450,2665.6 C1439.1,2664.4 1434.7,2664.6 1428.3,2662.5 C1421.9,2660.4 1415.8,2656.5 1411.7,2653.2 C1407.6,2649.9 1405.6,2646.3 1403.5,2642.9 C1401.4,2639.5 1399.9,2636.1 1399.3,2632.5 C1398.7,2628.9 1399.1,2624.7 1399.8,2621.1 C1400.5,2617.5 1401.8,2613.8 1403.5,2610.8 C1405.2,2607.8 1407.5,2605.9 1409.7,2603 Z" fill="#fff" stroke="none"/>
<path d="M1409.7,2603 C1410.9,2601.4 1414.2,2596.9 1416.9,2593.2 C1419.7,2589.5 1422.4,2585.2 1426.2,2580.7 C1430,2576.2 1435,2570.8 1439.7,2566.3 C1444.4,2561.8 1449,2557.8 1454.2,2553.8 C1459.4,2549.8 1465,2546.1 1470.7,2542.4 C1476.4,2538.7 1481.9,2535.1 1488.3,2531.6 C1494.7,2528.1 1502.1,2524.3 1509,2521.7 C1515.9,2519.1 1522.9,2517.2 1529.8,2516 C1536.7,2514.8 1540.5,2514.7 1550.5,2514.5 C1560.5,2514.3 1565.1,2515.1 1590,2515.1 C1614.9,2515.1 1665,2514.7 1700,2514.5 C1735,2514.3 1770,2514.2 1800,2514.2 C1830,2514.2 1863.2,2514.6 1880,2514.5 C1896.8,2514.4 1893.5,2513.8 1900.7,2513.5 C1908,2513.2 1915.7,2512.6 1923.5,2512.4 C1931.3,2512.2 1939.5,2512.4 1947.3,2512.6 C1955.1,2512.8 1964.1,2512.9 1970.1,2513.3 C1976.1,2513.7 1979,2513.9 1983.5,2515 C1988,2516.1 1992.3,2517 1997,2519.7 C2001.7,2522.4 2006.5,2525.2 2011.5,2531.1 C2016.5,2537 2021,2546.4 2027,2554.9 C2033,2563.4 2042.2,2574.7 2047.7,2581.8 C2053.2,2588.9 2057.4,2593.7 2060.1,2597.3 C2062.8,2600.9 2063,2602 2063.7,2603.5 C2064.4,2605 2064.2,2605.7 2064.3,2606.1" fill="none" stroke="#1e1e1e" stroke-width="1.15" stroke-linejoin="round" stroke-linecap="round"/>
<path d="M2064.3,2606.1 C2064.6,2607.4 2065.8,2610.9 2066.3,2613.9 C2066.8,2616.9 2067.6,2620.8 2067.4,2624.2 C2067.2,2627.6 2066.7,2631.1 2065.3,2634.6 C2063.9,2638.1 2062,2641.4 2059.1,2644.9 C2056.2,2648.4 2052.5,2651.9 2047.7,2655.3 C2042.9,2658.8 2036.5,2662.8 2030.1,2665.6 C2023.7,2668.3 2014.9,2670.4 2009.4,2671.8 C2003.9,2673.2 2004.2,2673 1997,2673.9 C1989.8,2674.8 1975.1,2676.4 1965.9,2677.2 C1956.8,2678 1956.4,2677.8 1942.1,2678.6 C1927.8,2679.4 1899.7,2681.5 1880,2682.2 C1860.3,2682.9 1854.2,2683.4 1824.2,2682.9 C1794.2,2682.4 1739,2680.3 1700,2679.2 C1661,2678 1617.5,2676.9 1590,2676 C1562.5,2675.1 1551,2674.9 1534.9,2673.9 C1518.8,2672.9 1507.7,2671.2 1493.5,2669.8 C1479.3,2668.4 1460.9,2666.8 1450,2665.6 C1439.1,2664.4 1434.7,2664.6 1428.3,2662.5 C1421.9,2660.4 1415.8,2656.5 1411.7,2653.2 C1407.6,2649.9 1405.6,2646.3 1403.5,2642.9 C1401.4,2639.5 1399.9,2636.1 1399.3,2632.5 C1398.7,2628.9 1399.1,2624.7 1399.8,2621.1 C1400.5,2617.5 1401.8,2613.8 1403.5,2610.8 C1405.2,2607.8 1408.7,2604.3 1409.7,2603" fill="none" stroke="#1e1e1e" stroke-width="1.15" stroke-linejoin="round" stroke-linecap="round"/>
<path d="M1409.7,2603 C1410.5,2605.2 1412.9,2612.4 1414.8,2615.9 C1416.7,2619.4 1417.5,2621.9 1421.1,2624.2 C1424.7,2626.5 1428,2628.3 1436.6,2629.9 C1445.2,2631.5 1459.9,2632.6 1472.8,2633.5 C1485.7,2634.4 1494.7,2634.9 1514.2,2635.6 C1533.7,2636.3 1559,2637 1590,2637.7 C1621,2638.4 1661,2639.4 1700,2640 C1739,2640.6 1794.2,2640.8 1824.2,2641 C1854.2,2641.2 1862.1,2641.5 1880,2641.3 C1897.9,2641.1 1916.3,2640.2 1931.8,2639.8 C1947.3,2639.4 1961.1,2639.1 1973.2,2638.7 C1985.3,2638.3 1995.1,2638.7 2004.2,2637.5 C2013.3,2636.3 2021.1,2634.1 2028,2631.5 C2034.9,2628.9 2040.2,2625.5 2045.6,2622.2 C2050.9,2618.9 2057,2614.5 2060.1,2611.8 C2063.2,2609.1 2063.6,2607.1 2064.3,2606.1" fill="none" stroke="#1e1e1e" stroke-width="1.15" stroke-linejoin="round" stroke-linecap="round"/>

<!-- PERSON -->
<path d="M2740.5,1896.2 C2743.5,1897.1 2753.7,1898.4 2758.6,1901.4 C2763.5,1904.4 2767.6,1908.7 2770.2,1914.3 C2772.8,1919.9 2773.2,1928.1 2774.1,1935 C2775,1941.9 2775.6,1949.3 2775.4,1955.8 C2775.2,1962.3 2774.3,1968.3 2772.8,1973.9 C2771.3,1979.5 2768.7,1984.2 2766.3,1989.4 C2763.9,1994.6 2760,2000.6 2758.6,2004.9 C2757.2,2009.2 2757.2,2011.8 2758,2015.3 C2758.8,2018.8 2760.1,2021.7 2763.7,2025.6 C2767.2,2029.5 2773.2,2035.1 2779.3,2038.6 C2785.4,2042 2794.4,2044.1 2800,2046.3 C2805.6,2048.4 2809.5,2048.9 2812.9,2051.5 C2816.3,2054.1 2819,2058 2820.7,2061.9 C2822.4,2065.8 2822,2065.3 2823.3,2074.8 C2824.6,2084.3 2826.9,2102.8 2828.4,2118.8 C2829.9,2134.8 2831.2,2149 2832.3,2170.6 C2833.4,2192.2 2834.7,2231.8 2834.9,2248.2 C2835.1,2264.6 2834.7,2261.6 2833.6,2268.9 C2832.5,2276.2 2831,2284 2828.4,2292.2 C2825.8,2300.4 2821.6,2310.2 2818.1,2318.1 C2814.6,2326 2809,2335.9 2807.2,2339.5" fill="none" stroke="#2a2a2a" stroke-width="1.05" stroke-linejoin="round"/>
<path d="M2807.2,2339.5 L2809.5,2377.6 M2809.8,2377.6 L2809.8,2408.7 L2783.4,2707.5" fill="none" stroke="#2a2a2a" stroke-width="1.05" stroke-linejoin="round"/>
<path d="M2783.4,2707.5 C2784.7,2709.5 2787.8,2715.3 2791.2,2719.3 C2794.6,2723.3 2798.4,2728.1 2803.6,2731.7 C2808.8,2735.3 2818.3,2738.4 2822.2,2741 C2826.1,2743.6 2826.4,2745 2826.9,2747.2 C2827.4,2749.4 2829.7,2752.6 2825.3,2754 C2820.9,2755.4 2807.7,2756.2 2800.5,2755.6 C2793.3,2755 2787.6,2752.7 2781.9,2750.3 C2776.2,2747.9 2771,2744.3 2766.3,2741 C2761.6,2737.7 2756.7,2731.8 2753.9,2730.7 C2751.1,2729.6 2751.9,2733.7 2749.3,2734.2 C2746.7,2734.7 2741,2734.6 2738.4,2733.9 C2735.8,2733.2 2734.6,2733.1 2733.7,2730.1 C2732.8,2727.1 2732.5,2720 2732.8,2716.1 C2733.1,2712.2 2734.9,2708.4 2735.3,2706.8" fill="none" stroke="#2a2a2a" stroke-width="1.05" stroke-linejoin="round"/>
<path d="M2734.3,2706.3 L2783.4,2707" fill="none" stroke="#2a2a2a" stroke-width="1.05" stroke-linejoin="round"/>
<path d="M2704.2,2724.8 L2722.9,2456.8 Q2728.3,2448.5 2733.7,2456.8 L2734.3,2706" fill="none" stroke="#2a2a2a" stroke-width="1.05" stroke-linejoin="round"/>
<path d="M2704.2,2724.8 L2660.1,2725.5" fill="none" stroke="#2a2a2a" stroke-width="1.05" stroke-linejoin="round"/>
<path d="M2663.9,2727 C2662.6,2729.3 2658.1,2734.5 2656.1,2741 C2654.1,2747.5 2652.5,2757.5 2652,2765.8 C2651.5,2774.1 2651.6,2784 2653,2790.7 C2654.4,2797.4 2657.1,2803.1 2660.7,2806.2 C2664.3,2809.3 2670,2809.8 2674.7,2809.3 C2679.4,2808.8 2685.3,2806.7 2688.7,2803.1 C2692.1,2799.5 2693.6,2795.9 2694.9,2787.6 C2696.2,2779.3 2695.4,2763.8 2696.5,2753.4 C2697.6,2743.1 2700.8,2730.2 2701.7,2725.5" fill="none" stroke="#2a2a2a" stroke-width="1.05" stroke-linejoin="round"/>
<path d="M2660.1,2725.5 L2662.3,2351.2" fill="none" stroke="#2a2a2a" stroke-width="1.05" stroke-linejoin="round"/>
<path d="M2662.3,2351.2 C2658.5,2347 2646.8,2334.3 2639.5,2325.8 C2632.2,2317.3 2625.3,2310.8 2618.8,2300 C2612.3,2289.2 2605.2,2274 2600.7,2261.1 C2596.2,2248.2 2593.3,2235.2 2591.6,2222.3 C2589.9,2209.4 2589.8,2196.4 2590.4,2183.5 C2591.1,2170.6 2592.9,2156.3 2595.5,2144.7 C2598.1,2133 2601.6,2125.2 2605.9,2113.6 C2610.2,2101.9 2616.7,2084.7 2621.4,2074.8 C2626.1,2064.9 2629.1,2060.1 2634.3,2054.1 C2639.5,2048.1 2646.4,2042.7 2652.5,2038.6 C2658.6,2034.5 2663.7,2032.3 2670.6,2029.5 C2677.5,2026.7 2688.5,2023.9 2693.9,2021.7 C2699.3,2019.5 2700.8,2018.5 2702.9,2016.6 C2705.1,2014.7 2706.4,2013.8 2706.8,2010.1 C2707.2,2006.4 2706.6,2000.2 2705.5,1994.6 C2704.4,1989 2701.6,1982.5 2700.3,1976.5 C2699,1970.5 2698,1964.8 2697.8,1958.3 C2697.6,1951.8 2698,1944.5 2699,1937.6 C2700,1930.7 2702,1922.5 2703.7,1916.9 C2705.4,1911.3 2706.3,1907 2709.4,1904 C2712.5,1901 2717.1,1900.1 2722.3,1898.8 C2727.5,1897.5 2737.5,1896.6 2740.5,1896.2" fill="none" stroke="#2a2a2a" stroke-width="1.05" stroke-linejoin="round"/>
<path d="M2648.6,2165.4 C2663,2192 2669,2220 2655.6,2265 C2644,2246 2630,2222 2635.5,2196 C2638,2184 2643,2174 2648.6,2165.4 Z" fill="none" stroke="#2a2a2a" stroke-width="1.05" stroke-linejoin="round"/>
<!-- dimension arrows -->
<g id="dims" fill="#000">
<g fill="none" stroke="#333" stroke-width="1">
<line x1="519.5" y1="310" x2="519.5" y2="437"/>
<line x1="519.5" y1="595.3" x2="519.5" y2="767"/>
<line x1="1366.5" y1="1520" x2="1366.5" y2="1848.6"/>
<line x1="1366.5" y1="1928.3" x2="1366.5" y2="2755"/>
<line x1="570" y1="1572.5" x2="671" y2="1572.5"/>
<line x1="949.3" y1="1572.5" x2="1045" y2="1572.5"/>
<line x1="550" y1="2792.5" x2="627.1" y2="2792.5"/>
<line x1="849.2" y1="2792.5" x2="930" y2="2792.5"/>
<line x1="1215" y1="2105.5" x2="1624" y2="2105.5"/>
<line x1="1865.5" y1="2105.5" x2="2275" y2="2105.5"/>
</g>
<g fill="none" stroke="#8a8a8a" stroke-width="1.4">
<line x1="396.9" y1="830" x2="396.9" y2="1064"/>
<line x1="396.9" y1="1153.8" x2="396.9" y2="1422"/>
<line x1="396.9" y1="1680" x2="396.9" y2="2121.7"/>
<line x1="396.9" y1="2229" x2="396.9" y2="2680"/>
<line x1="2891" y1="1920" x2="2891" y2="2305.1"/>
<line x1="2891" y1="2397.8" x2="2891" y2="2785"/>
</g>
<polygon points="519.5,284.7 513.4,320.3 525.6,320.3"/>
<polygon points="519.5,792.3 513.4,756.7 525.6,756.7"/>
<polygon points="396.8,805.3 390.7,840.4 402.9,840.4"/>
<polygon points="396.8,1447 390.7,1411.7 402.9,1411.7"/>
<polygon points="396.8,1657.1 390.7,1693 402.9,1693"/>
<polygon points="396.8,2703.9 390.7,2668 402.9,2668"/>
<polygon points="1366.5,1497.1 1360.4,1533.3 1372.6,1533.3"/>
<polygon points="1366.5,2778 1360.4,2741.8 1372.6,2741.8"/>
<polygon points="2891,1896.2 2884.9,1931.2 2897.1,1931.2"/>
<polygon points="2891,2807.8 2884.9,2772 2897.1,2772"/>
<polygon points="548.5,1572.3 585,1566.2 585,1578.4"/>
<polygon points="1065.2,1572.3 1028.8,1566.2 1028.8,1578.4"/>
<polygon points="531.8,2792 568.7,2785.9 568.7,2798.1"/>
<polygon points="950.6,2792 915.3,2785.9 915.3,2798.1"/>
<polygon points="1198.4,2105.6 1232.6,2099.5 1232.6,2111.7"/>
<polygon points="2294,2105.6 2260,2099.5 2260,2111.7"/>
</g>

</svg>
</body></html>
